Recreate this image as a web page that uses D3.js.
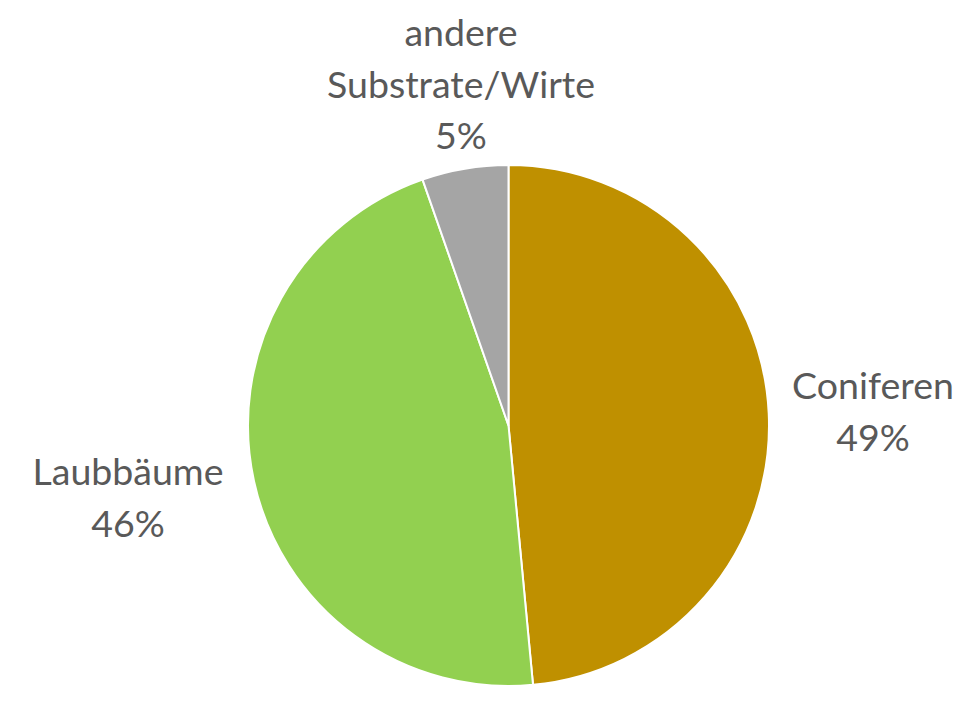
<!DOCTYPE html>
<html><head><meta charset="utf-8">
<script src="https://cdn.jsdelivr.net/npm/d3@7"></script>
<style>html,body{margin:0;padding:0;background:#fff;}</style>
</head><body>
<svg id="chart" width="970" height="715"></svg>
<script>
const categories = ["Coniferen", "Laubbäume", "andere Substrate/Wirte"];
const labelLines = [["Coniferen"], ["Laubbäume"], ["andere", "Substrate/Wirte"]];
const values = [48.5, 46.15, 5.35];
const colors = ["#BF9000", "#92D050", "#A5A5A5"];
// label anchor positions (centre of label block)
const labelPos = [[873, 399], [128, 485], [461, 46]];

const svg = d3.select("#chart");
const cx = 508.5, cy = 425.5, r = 260.5;
const g = svg.append("g").attr("transform", `translate(${cx},${cy})`);
const pie = d3.pie().sort(null).value(d => d)(values);
const arc = d3.arc().innerRadius(0).outerRadius(r);
g.selectAll("path").data(pie).enter().append("path")
  .attr("d", arc)
  .attr("fill", (d, i) => colors[i])
  .attr("stroke", "#fff").attr("stroke-width", 2).attr("stroke-linejoin", "round");

const fs = 37.5, lh = 51.5;
labelPos.forEach((p, i) => {
  const lines = labelLines[i].concat([Math.round(values[i]) + "%"]);
  const t = svg.append("text").attr("text-anchor", "middle")
    .attr("font-family", "Lato, 'Open Sans', sans-serif").attr("font-size", fs)
    .attr("fill", "#595959");
  lines.forEach((l, j) => {
    t.append("tspan").attr("x", p[0]).attr("y", p[1] + j * lh).text(l);
  });
});
</script>
</body></html>
